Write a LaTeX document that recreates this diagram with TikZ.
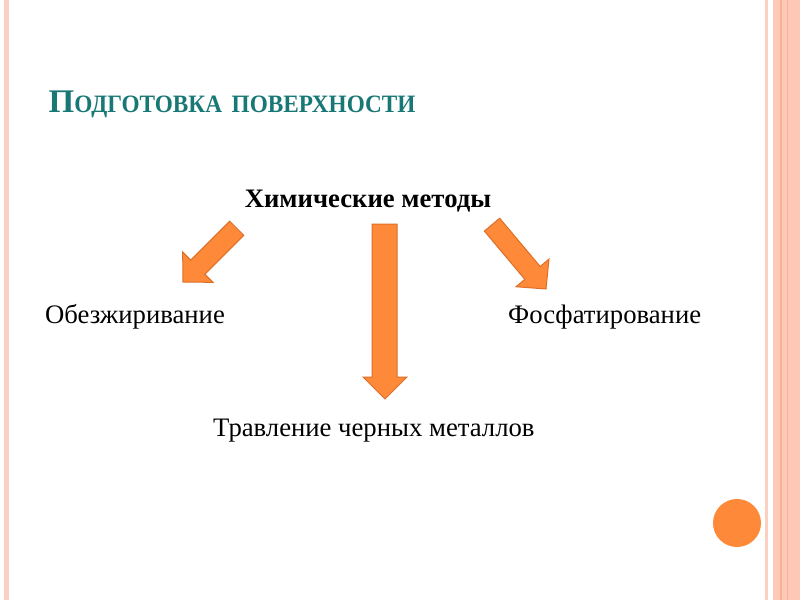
\documentclass[tikz,border=0pt]{standalone}
\usepackage{graphicx}
\usepackage{fontspec}
\setmainfont{Liberation Serif}
\definecolor{teal1}{RGB}{24,120,118}
\definecolor{arrfill}{RGB}{254,137,56}
\definecolor{arrdraw}{RGB}{222,110,40}
\definecolor{band}{RGB}{253,201,182}
\definecolor{bandline}{RGB}{246,178,150}
\definecolor{paleline}{RGB}{251,208,192}
\begin{document}
\begin{tikzpicture}[x=1pt,y=-1pt,
  blockarrow/.style={fill=arrfill,draw=arrdraw,line width=1pt,line join=miter},
  lbl/.style={inner sep=0pt,anchor=base west,font=\fontsize{26.7}{26.7}\selectfont}]
\useasboundingbox (0,0) rectangle (800,600);
\fill[white] (0,0) rectangle (800,600);
% frame lines
\fill[paleline] (3.5,0) rectangle (8.5,600);
\fill[paleline] (765,0) rectangle (768,600);
\fill[band] (773,0) rectangle (800,600);
\fill[bandline] (780,0) rectangle (782,600);
\fill[bandline] (786.5,0) rectangle (788,600);
% circle
\fill[arrfill] (737,523) circle (24);
% title
\node[inner sep=0pt,anchor=base west,text=teal1,font=\bfseries] (title) at (48.5,112.5)
  {{\fontsize{33}{33}\selectfont П}\scalebox{0.93}[1]{\fontsize{25}{25}\selectfont ОДГОТОВКА\, ПОВЕРХНОСТИ}};
% texts
\node[inner sep=0pt,anchor=base,font=\bfseries\fontsize{26.7}{26.7}\selectfont] (chem) at (368,207) {Химические методы};
\node[lbl] (deg) at (45,323) {Обезжиривание};
\node[lbl] (phos) at (508,323) {Фосфатирование};
\node[lbl] (etch) at (213,436) {Травление черных металлов};
% arrows
\draw[blockarrow] (372,224) -- (397,224) -- (397,377) -- (407,377) -- (385,399) -- (363,377) -- (372,377) -- cycle;
\begin{scope}[shift={(183,282)},rotate=45]
  \draw[blockarrow] (0,0) -- (21,21.5) -- (21,10) -- (76,10) -- (76,-10) -- (21,-10) -- (21,-21.5) -- cycle;
\end{scope}
\begin{scope}[shift={(546,289)},rotate=130]
  \draw[blockarrow] (0,0) -- (21,21.5) -- (21,10) -- (84,10) -- (84,-10) -- (21,-10) -- (21,-21.5) -- cycle;
\end{scope}
\end{tikzpicture}
\end{document}
